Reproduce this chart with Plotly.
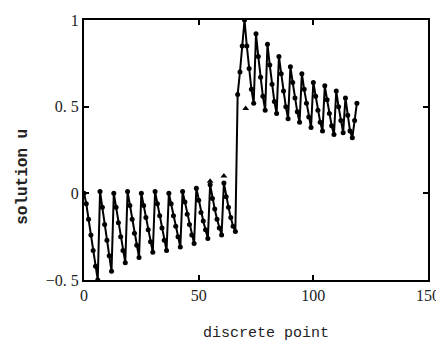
import plotly.graph_objects as go

# discrete point index
x_vals = list(range(0, 120))

# solution u (step 1)
u_vals = [
    # x 0-6
    0.00, -0.06, -0.15, -0.24, -0.33, -0.42, -0.50,
    # x 7-12
    0.01, -0.08, -0.18, -0.27, -0.36, -0.45,
    # x 13-18
    0.00, -0.08, -0.17, -0.25, -0.33, -0.40,
    # x 19-24
    0.01, -0.07, -0.15, -0.23, -0.30, -0.37,
    # x 25-30
    0.00, -0.07, -0.14, -0.21, -0.28, -0.34,
    # x 31-36
    0.01, -0.06, -0.13, -0.20, -0.27, -0.33,
    # x 37-42
    0.00, -0.06, -0.13, -0.19, -0.25, -0.31,
    # x 43-48
    0.01, -0.05, -0.12, -0.18, -0.24, -0.29,
    # x 49-54
    0.03, -0.04, -0.11, -0.16, -0.21, -0.26,
    # x 55-60
    0.05, -0.03, -0.09, -0.15, -0.20, -0.24,
    # x 61-66
    0.06, -0.02, -0.08, -0.14, -0.19, -0.22,
    # x 67-69 (jump)
    0.57, 0.70, 0.85,
    # x 70-74
    1.00, 0.85, 0.72, 0.60, 0.52,
    # x 75-79
    0.92, 0.79, 0.67, 0.56, 0.48,
    # x 80-84
    0.86, 0.74, 0.63, 0.53, 0.46,
    # x 85-89
    0.79, 0.69, 0.59, 0.50, 0.43,
    # x 90-94
    0.73, 0.64, 0.55, 0.47, 0.41,
    # x 95-99
    0.69, 0.60, 0.52, 0.44, 0.38,
    # x 100-104
    0.64, 0.56, 0.48, 0.41, 0.36,
    # x 105-109
    0.62, 0.54, 0.46, 0.39, 0.34,
    # x 110-113
    0.59, 0.50, 0.42, 0.35,
    # x 114-119
    0.55, 0.45, 0.36, 0.32, 0.42, 0.52,
]

# isolated triangle markers
tri_x = [55, 61, 70.5]
tri_y = [0.07, 0.10, 0.49]

x_tickvals = [0, 50, 100, 150]
x_ticktext = ["0", "50", "100", "150"]
y_tickvals = [-0.5, 0, 0.5, 1]
y_ticktext = ["\u22120. 5", "0", "0. 5", "1"]

fig = go.Figure()
fig.add_trace(go.Scatter(
    x=x_vals, y=u_vals, mode="lines+markers",
    line=dict(color="black", width=2),
    marker=dict(symbol="circle", size=5, color="black"),
    showlegend=False,
))
fig.add_trace(go.Scatter(
    x=tri_x, y=tri_y, mode="markers",
    marker=dict(symbol="triangle-up", size=6, color="black"),
    showlegend=False,
))

axis_common = dict(
    showline=True, linecolor="black", linewidth=2, mirror="ticks",
    ticks="inside", ticklen=5, tickwidth=2, tickcolor="black",
    showgrid=False, zeroline=False, ticklabeloverflow="allow",
    tickfont=dict(family="Liberation Serif", size=16, color="#222"),
)

fig.update_layout(
    width=436, height=339,
    margin=dict(l=76, r=12, t=4, b=67),
    paper_bgcolor="white", plot_bgcolor="white",
    xaxis=dict(range=[0, 150], tickvals=x_tickvals, ticktext=x_ticktext, **axis_common),
    yaxis=dict(range=[-0.5, 1], tickvals=y_tickvals, ticktext=y_ticktext, **axis_common),
    annotations=[
        dict(text="discrete point", xref="paper", yref="paper", x=0.529, y=-0.205,
             showarrow=False, xanchor="center", yanchor="middle",
             font=dict(family="Liberation Mono", size=15, color="#222")),
        dict(text="<b>solution u</b>", xref="paper", yref="paper", x=-0.178, y=0.396,
             showarrow=False, xanchor="center", yanchor="middle", textangle=-90,
             font=dict(family="Liberation Mono", size=16, color="#222")),
    ],
)

fig.write_html("out.html")
